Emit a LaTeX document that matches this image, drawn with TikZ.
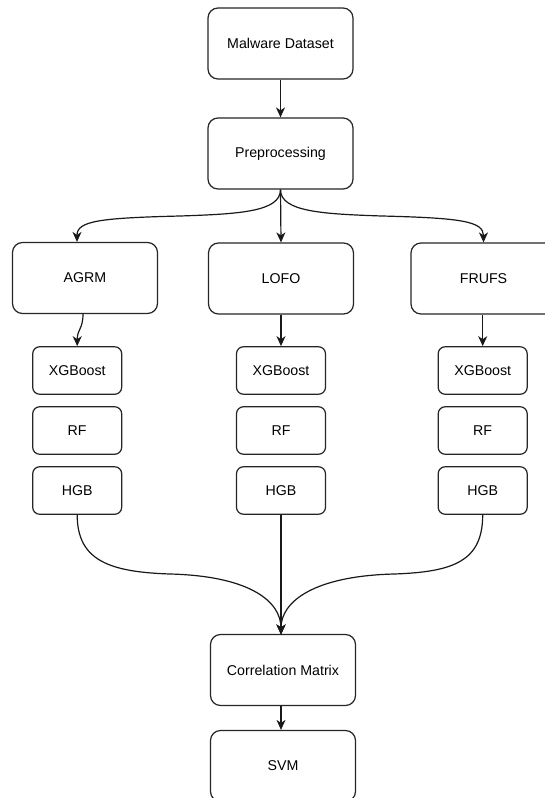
\documentclass[tikz,border=0pt]{standalone}
\usepackage{fontspec}
\setmainfont{Liberation Sans}
\usetikzlibrary{arrows.meta}
\begin{document}
\begin{tikzpicture}[x=1pt,y=-1pt,
  every node/.style={font=\fontsize{14.2}{17}\selectfont, text=black},
  bigbox/.style={draw=black!85, line width=1.2pt, rounded corners=10pt, minimum width=145pt, minimum height=71pt, inner sep=0pt, fill=white},
  smallbox/.style={draw=black!85, line width=1.2pt, rounded corners=7pt, minimum width=89pt, minimum height=47.5pt, inner sep=0pt, fill=white},
  conn/.style={draw=black!90, line width=1.2pt, -{Stealth[length=10pt,width=9pt,inset=3pt]}}
]
\useasboundingbox (0,0) rectangle (545,798);
\fill[white] (0,0) rectangle (545,798);

\node[bigbox] (md) at (280.5,43.5) {Malware Dataset};
\node[bigbox] (pp) at (280.5,153.5) {Preprocessing};

\node[bigbox] (agrm) at (85,278) {AGRM};
\node[bigbox] (lofo) at (281,278.5) {LOFO};
\node[bigbox] (frufs) at (483.5,278.5) {FRUFS};

\node[smallbox] (xgb1) at (77.2,370.5) {XGBoost};
\node[smallbox] (rf1) at (77.2,430.5) {RF};
\node[smallbox] (hgb1) at (77.2,490.5) {HGB};

\node[smallbox] (xgb2) at (281,370.5) {XGBoost};
\node[smallbox] (rf2) at (281,430.5) {RF};
\node[smallbox] (hgb2) at (281,490.5) {HGB};

\node[smallbox] (xgb3) at (482.7,370.5) {XGBoost};
\node[smallbox] (rf3) at (482.7,430.5) {RF};
\node[smallbox] (hgb3) at (482.7,490.5) {HGB};

\node[bigbox] (corr) at (283,670) {Correlation Matrix};
\node[bigbox] (svm) at (283,766) {SVM};

\coordinate (tl) at (180,216);
\coordinate (tr) at (382,216);
\coordinate (bl) at (170,574);
\coordinate (br) at (394,574);
\coordinate (cin) at (281,634.5);

% top
\draw[conn] (md) -- (pp);
\draw[conn] (pp.south) -- (lofo.north);
\draw[conn] (pp.south) .. controls +(0,22) and (240,214) .. (tl)
  .. controls (100,218) and +(0,-21) .. ([xshift=-8pt]agrm.north);
\draw[conn] (pp.south) .. controls +(0,22) and (322,214) .. (tr)
  .. controls (462,218) and +(0,-21) .. (frufs.north);

% feature selectors to classifiers
\draw[conn] ([xshift=-2pt]agrm.south) .. controls +(0,15) and +(0,-17) .. (xgb1.north);
\draw[conn] (lofo) -- (xgb2);
\draw[conn] (frufs.south -| xgb3.north) -- (xgb3.north);

% bottom merge
\draw[conn] (hgb1.south) .. controls +(0,46) and (110,572) .. (bl)
  .. controls (250,576) and +(0,-33) .. (cin);
\draw[conn] (hgb3.south) .. controls +(0,46) and (454,572) .. (br)
  .. controls (314,576) and +(0,-33) .. (cin);
\draw[conn] (hgb2.south) -- (cin);

\draw[conn] (corr.south -| cin) -- (svm.north -| cin);
\end{tikzpicture}
\end{document}
